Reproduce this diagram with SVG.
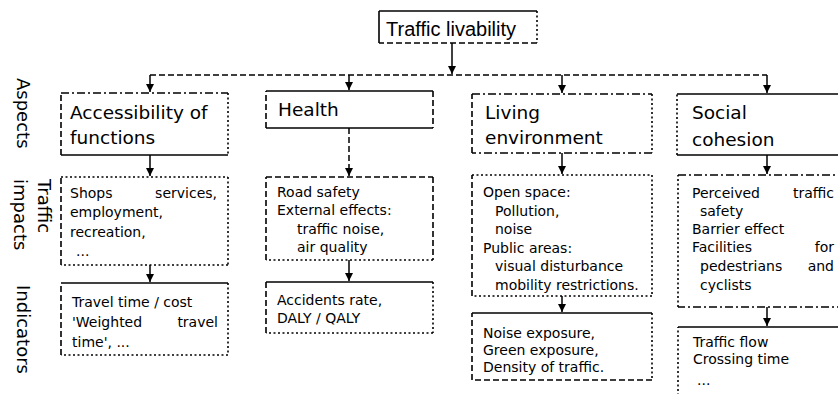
<svg xmlns="http://www.w3.org/2000/svg" width="838" height="394" viewBox="0 0 838 394">
<style>
.bg{fill:#fff}
.e{fill:none;stroke:#000;stroke-width:1.6}
.s{}
.d{stroke-dasharray:6 3}
.o{stroke-dasharray:2 2.5}
.dd{stroke-dasharray:8 3 2 3}
.c{fill:none;stroke:#000;stroke-width:1.5}
.t{font-family:"Liberation Sans",Arial,sans-serif;font-size:20px;fill:#000}
.h{font-family:"DejaVu Sans",sans-serif;font-size:18.5px;fill:#000}
.b{font-family:"DejaVu Sans",sans-serif;font-size:14px;fill:#000}
.l{font-family:"DejaVu Sans",sans-serif;font-size:18px;fill:#000}
</style>
<defs>
<marker id="ar" markerUnits="userSpaceOnUse" markerWidth="9" markerHeight="9" refX="8" refY="4" orient="auto">
<path d="M0,0 L8,4 L0,8 z" fill="#000"/>
</marker>
</defs>
<rect class="bg" x="0" y="0" width="838" height="394"/>

<g id="labels">
<text class="l" transform="translate(17,78) rotate(90)">Aspects</text>
<text class="l" transform="translate(38,179) rotate(90)">Traffic</text>
<text class="l" transform="translate(14,179) rotate(90)">impacts</text>
<text class="l" transform="translate(17,285) rotate(90)">Indicators</text>
</g>

<g id="connectors">
<path class="c" d="M452 43 V74" marker-end="url(#ar)"/>
<path class="c d" d="M150 75 H767"/>
<path class="c" d="M150 75 V92" marker-end="url(#ar)"/>
<path class="c" d="M349 75 V90" marker-end="url(#ar)"/>
<path class="c" d="M562 75 V93" marker-end="url(#ar)"/>
<path class="c" d="M767 75 V93" marker-end="url(#ar)"/>
<path class="c" d="M150 155 V176" marker-end="url(#ar)"/>
<path class="c d" d="M349 128 V176" marker-end="url(#ar)"/>
<path class="c" d="M562 153 V174" marker-end="url(#ar)"/>
<path class="c" d="M767 155 V174" marker-end="url(#ar)"/>
<path class="c" d="M150 265 V282" marker-end="url(#ar)"/>
<path class="c" d="M349 260 V281" marker-end="url(#ar)"/>
<path class="c" d="M562 296 V312" marker-end="url(#ar)"/>
<path class="c" d="M767 307 V326" marker-end="url(#ar)"/>
</g>

<g id="title">
<path class="e s" d="M379 11 H537"/><path class="e o" d="M537 11 V43"/><path class="e d" d="M537 43 H379"/><path class="e s" d="M379 43 V11"/>
<text class="t" x="386" y="36">Traffic livability</text>
</g>

<g id="aspect-accessibility">
<path class="e dd" d="M61 93 H228"/><path class="e o" d="M228 93 V155"/><path class="e s" d="M228 155 H61"/><path class="e d" d="M61 155 V93"/>
<text class="h" x="70" y="119">Accessibility of</text>
<text class="h" x="70" y="144">functions</text>
</g>
<g id="aspect-health">
<path class="e s" d="M266 91 H433"/><path class="e d" d="M433 91 V128"/><path class="e s" d="M433 128 H266"/><path class="e d" d="M266 128 V91"/>
<text class="h" x="278" y="116">Health</text>
</g>
<g id="aspect-living">
<path class="e dd" d="M472 94 H652"/><path class="e o" d="M652 94 V153"/><path class="e dd" d="M652 153 H472"/><path class="e d" d="M472 153 V94"/>
<text class="h" x="485" y="119">Living</text>
<text class="h" x="485" y="144">environment</text>
</g>
<g id="aspect-social">
<path class="e s" d="M677 94 H845"/><path class="e s" d="M845 155 H677"/><path class="e o" d="M677 155 V94"/>
<text class="h" x="692" y="119">Social</text>
<text class="h" x="692" y="146">cohesion</text>
</g>

<g id="impact-accessibility">
<path class="e o" d="M61 177 H228"/><path class="e o" d="M228 177 V265"/><path class="e o" d="M228 265 H61"/><path class="e d" d="M61 265 V177"/>
<text class="b" x="70" y="198">Shops</text><text class="b" x="217" y="198" text-anchor="end">services,</text>
<text class="b" x="70" y="217">employment,</text>
<text class="b" x="70" y="237">recreation,</text>
<text class="b" x="76" y="256">...</text>
</g>
<g id="impact-health">
<path class="e d" d="M266 177 H433"/><path class="e d" d="M433 177 V260"/><path class="e o" d="M433 260 H266"/><path class="e d" d="M266 260 V177"/>
<text class="b" x="277" y="197">Road safety</text>
<text class="b" x="277" y="215">External effects:</text>
<text class="b" x="297" y="234">traffic noise,</text>
<text class="b" x="297" y="252">air quality</text>
</g>
<g id="impact-living">
<path class="e o" d="M472 175 H652"/><path class="e o" d="M652 175 V296"/><path class="e o" d="M652 296 H472"/><path class="e d" d="M472 296 V175"/>
<text class="b" x="483" y="197">Open space:</text>
<text class="b" x="495" y="215.5">Pollution,</text>
<text class="b" x="495" y="234">noise</text>
<text class="b" x="483" y="252.5">Public areas:</text>
<text class="b" x="495" y="271">visual disturbance</text>
<text class="b" x="495" y="289.5">mobility restrictions.</text>
</g>
<g id="impact-social">
<path class="e dd" d="M678 175 H845"/><path class="e dd" d="M845 307 H678"/><path class="e o" d="M678 307 V175"/>
<text class="b" x="692" y="198">Perceived</text><text class="b" x="834" y="198" text-anchor="end">traffic</text>
<text class="b" x="700" y="216">safety</text>
<text class="b" x="692" y="234">Barrier effect</text>
<text class="b" x="692" y="252">Facilities</text><text class="b" x="834" y="252" text-anchor="end">for</text>
<text class="b" x="700" y="271">pedestrians</text><text class="b" x="834" y="271" text-anchor="end">and</text>
<text class="b" x="700" y="290">cyclists</text>
</g>

<g id="indicator-accessibility">
<path class="e s" d="M61 283 H228"/><path class="e o" d="M228 283 V355"/><path class="e o" d="M228 355 H61"/><path class="e d" d="M61 355 V283"/>
<text class="b" x="72" y="307">Travel time / cost</text>
<text class="b" x="72" y="327">'Weighted</text><text class="b" x="218" y="327" text-anchor="end">travel</text>
<text class="b" x="72" y="347">time', ...</text>
</g>
<g id="indicator-health">
<path class="e s" d="M266 282 H433"/><path class="e o" d="M433 282 V333"/><path class="e o" d="M433 333 H266"/><path class="e d" d="M266 333 V282"/>
<text class="b" x="277" y="305">Accidents rate,</text>
<text class="b" x="277" y="323">DALY / QALY</text>
</g>
<g id="indicator-living">
<path class="e s" d="M472 313 H652"/><path class="e o" d="M652 313 V380"/><path class="e d" d="M652 380 H472"/><path class="e d" d="M472 380 V313"/>
<text class="b" x="483" y="338">Noise exposure,</text>
<text class="b" x="483" y="355">Green exposure,</text>
<text class="b" x="483" y="372">Density of traffic.</text>
</g>
<g id="indicator-social">
<path class="e s" d="M678 327 H845"/><path class="e o" d="M678 400 V327"/>
<text class="b" x="693" y="347">Traffic flow</text>
<text class="b" x="693" y="364">Crossing time</text>
<text class="b" x="697" y="385">...</text>
</g>
</svg>
